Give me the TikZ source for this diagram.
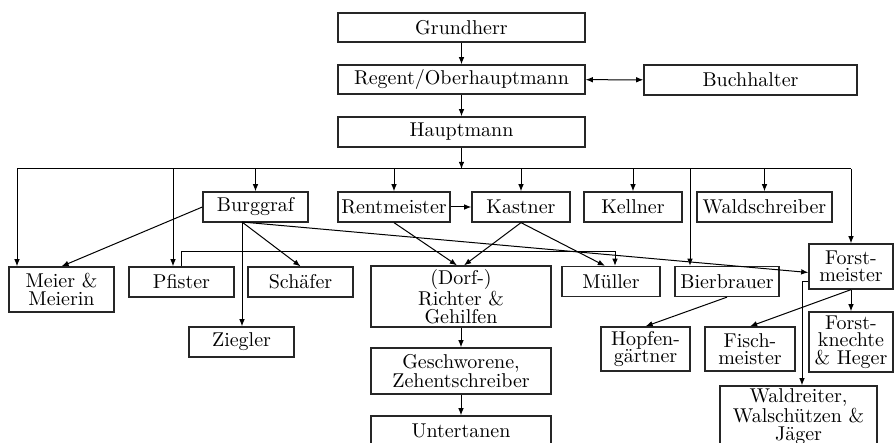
\documentclass[tikz,border=0pt]{standalone}
\usepackage{fontspec}
\usetikzlibrary{arrows.meta}

\tikzset{
  box/.style={draw=black!85, line width=0.65pt, minimum height=15pt, inner sep=1pt,
    align=center, font=\fontsize{10}{8.7}\selectfont},
  arr/.style={-{Latex[length=3.6pt,width=2.8pt]}, line width=0.5pt},
  line/.style={line width=0.5pt},
}

\begin{document}
\begin{tikzpicture}[x=0.5pt,y=-0.5pt]
    \useasboundingbox (0,0) rectangle (894,443);

    % top of the hierarchy
    \node[box, minimum width=123.5pt, minimum height=14.5pt] (grund) at (461.5,27.5) {Grundherr};
    \node[box, minimum width=123.5pt, minimum height=14.5pt] (regent) at (461.5,79.5) {Regent/Oberhauptmann};
    \node[box, minimum width=106.5pt] (buch) at (750.5,80) {Buchhalter};
    \node[box, minimum width=123.5pt] (haupt) at (461.5,132) {Hauptmann};

    % first row
    \node[box, minimum width=52.5pt] (burg) at (255.5,207) {Burggraf};
    \node[box, minimum width=56pt] (rent) at (394,207) {Rentmeister};
    \node[box, minimum width=49pt] (kast) at (521,207) {Kastner};
    \node[box, minimum width=49pt] (kell) at (633,207) {Kellner};
    \node[box, minimum width=67.5pt] (wald) at (764.5,207) {Waldschreiber};
    \node[box, minimum width=42pt, minimum height=22.5pt] (forst) at (851,266.5) {Forst-\\meister};

    % second row
    \node[box, minimum width=52.5pt, minimum height=22.5pt] (meier) at (61.5,289.5) {Meier \&\\Meierin};
    \node[box, minimum width=52.5pt] (pfister) at (181.5,282) {Pfister};
    \node[box, minimum width=52.5pt] (schaefer) at (300.5,282) {Schäfer};
    \node[box, minimum width=90pt, minimum height=30.5pt] (richter) at (461,296.5) {(Dorf-)\\Richter \&\\Gehilfen};
    \node[box, minimum width=49pt] (mueller) at (611,281.5) {Müller};
    \node[box, minimum width=52pt] (bier) at (727,281.5) {Bierbrauer};

    % lower rows
    \node[box, minimum width=52.5pt] (ziegler) at (241.5,342) {Ziegler};
    \node[box, minimum width=90pt, minimum height=23pt] (gesch) at (461,371) {Geschworene,\\Zehentschreiber};
    \node[box, minimum width=90pt] (unter) at (461,431) {Untertanen};
    \node[box, minimum width=44.5pt, minimum height=22pt] (hopfen) at (645.5,349) {Hopfen-\\gärtner};
    \node[box, minimum width=45pt, minimum height=22pt] (fisch) at (750,349) {Fisch-\\meister};
    \node[box, minimum width=42pt, minimum height=30pt] (knechte) at (851,342) {Forst-\\knechte\\\& Heger};
    \node[box, minimum width=78.5pt, minimum height=30.5pt] (waldr) at (798.5,416.5) {Waldreiter,\\Walschützen \&\\Jäger};

    % chain from the top
    \draw[arr] (grund) -- (regent);
    \draw[arr] (regent) -- (haupt);
    \draw[{Latex[length=3.6pt,width=2.8pt]}-{Latex[length=3.6pt,width=2.8pt]}, line width=0.5pt] (regent) -- (buch);

    % distribution line below the Hauptmann
    \coordinate (busL) at (17,169);
    \coordinate (busR) at (851,169);
    \coordinate (pf) at (173,169);
    \coordinate (bb) at (690,169);
    \draw[line] (busL) -- (busR);
    \draw[arr] (haupt) -- (haupt |- busL);
    \draw[arr] (busL) -- (busL |- meier.north);
    \draw[arr] (pf) -- (pf |- pfister.north);
    \draw[arr] (bb) -- (bb |- bier.north);
    \draw[arr] (busR) -- (forst);
    \foreach \n in {burg,rent,kast,kell,wald}
        \draw[arr] (\n |- busL) -- (\n);

    % Burggraf
    \coordinate (bg) at (242,222);
    \draw[arr] (burg.west) -- (meier.north);
    \draw[arr] (bg) -- (ziegler.north -| bg);
    \draw[arr] (bg) -- (schaefer.north);
    \draw[arr] (bg) -- ([yshift=-3pt]forst.west);

    % Rentmeister and Kastner
    \draw[arr] (rent) -- (kast);
    \draw[arr] (rent.south) -- ([xshift=-2pt]richter.north);
    \draw[arr] (kast.south) -- ([xshift=1.5pt]richter.north);
    \draw[arr] (kast.south) -- ([xshift=-3pt]mueller.north);

    % Pfister to Mueller
    \coordinate (pm) at (615,252);
    \draw[arr] (pfister.north) |- (pm) -- (pm |- mueller.north);

    % village
    \draw[arr] (richter) -- (gesch);
    \draw[arr] (gesch) -- (unter);

    % Bierbrauer and Forstmeister
    \draw[arr] (bier.south) -- (hopfen.north);
    \draw[arr] (forst.south) -- (fisch.north);
    \draw[arr] (forst) -- (knechte);
    \coordinate (fw) at (802,282);
    \draw[arr] (forst.west |- fw) -- (fw) -- (fw |- waldr.north);
\end{tikzpicture}
\end{document}
